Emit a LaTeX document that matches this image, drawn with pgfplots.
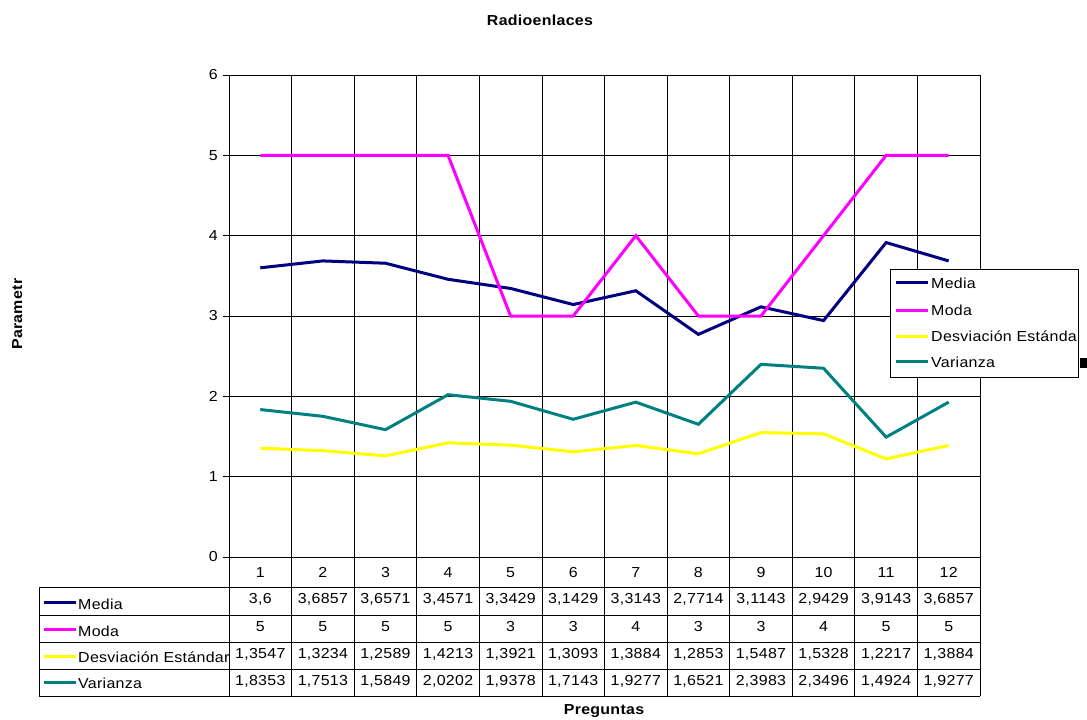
\documentclass[border=0pt]{standalone}
\usepackage{pgfplots}
\pgfplotsset{compat=1.18}
\usepackage{fontspec}
\setmainfont{Liberation Sans}[FakeStretch=1.1, LetterSpace=2]
\definecolor{cmedia}{HTML}{000080}
\definecolor{cmoda}{HTML}{FF00FF}
\definecolor{cdesv}{HTML}{FFFF00}
\definecolor{cvar}{HTML}{008080}
\begin{document}
\begin{tikzpicture}[font=\fontsize{14.5bp}{16bp}\selectfont]
\path[use as bounding box] (0,0) rectangle (1087bp,-720bp);
\begin{axis}[
  at={(229bp,-557bp)}, anchor=south west,
  scale only axis, width=751bp, height=482bp,
  xmin=0.5, xmax=12.5, ymin=0, ymax=6,
  xtick={1.5,2.5,...,11.5}, xticklabels={},
  ytick={0,1,...,6}, ytick pos=left,
  xmajorgrids, ymajorgrids,
  grid style={black, line width=0.8bp},
  axis line style={black, line width=0.8bp},
  tick style={black, line width=0.8bp},
  xtick style={draw=none},
  tick align=outside,
  major tick length=6bp,
  /pgf/number format/assume math mode=true,
  yticklabel style={font=\fontsize{14.5bp}{16bp}\selectfont, inner sep=0pt, xshift=-5bp},
  every axis plot/.append style={line width=3bp, no markers},
]
\addplot[cmedia] coordinates {(1,3.6) (2,3.6857) (3,3.6571) (4,3.4571) (5,3.3429) (6,3.1429) (7,3.3143) (8,2.7714) (9,3.1143) (10,2.9429) (11,3.9143) (12,3.6857)};
\addplot[cmoda] coordinates {(1,5) (2,5) (3,5) (4,5) (5,3) (6,3) (7,4) (8,3) (9,3) (10,4) (11,5) (12,5)};
\addplot[cdesv] coordinates {(1,1.3547) (2,1.3234) (3,1.2589) (4,1.4213) (5,1.3921) (6,1.3093) (7,1.3884) (8,1.2853) (9,1.5487) (10,1.5328) (11,1.2217) (12,1.3884)};
\addplot[cvar] coordinates {(1,1.8353) (2,1.7513) (3,1.5849) (4,2.0202) (5,1.9378) (6,1.7143) (7,1.9277) (8,1.6521) (9,2.3983) (10,2.3496) (11,1.4924) (12,1.9277)};
\end{axis}
\begin{scope}[x=1bp, y=-1bp]
  % titles
  \node[anchor=base, font=\fontsize{14.5bp}{16bp}\selectfont\bfseries] at (540,25) {Radioenlaces};
  \node[anchor=base, font=\fontsize{14.5bp}{16bp}\selectfont\bfseries] at (604,714) {Preguntas};
  \node[anchor=base west, rotate=90, inner sep=0pt, font=\fontsize{14.5bp}{16bp}\selectfont\bfseries] at (22,350) {Parametr};
  % table grid
  \def\cw{62.583}
  \foreach \yy in {587,615,642,669,696} \draw[black, line width=0.8bp] (39,\yy) -- (980,\yy);
  \draw[black, line width=0.8bp] (39,587) -- (39,696);
  \foreach \k in {0,...,12} \draw[black, line width=0.8bp] ({229+\cw*\k},557) -- ({229+\cw*\k},696);
  % header
  \foreach \i in {1,...,12} \node[anchor=base, inner sep=0pt] at ({229+\cw*(\i-0.5)},577) {\i};
  % rows
  \foreach \v [count=\i] in {{3,6},{3,6857},{3,6571},{3,4571},{3,3429},{3,1429},{3,3143},{2,7714},{3,1143},{2,9429},{3,9143},{3,6857}}
    \node[anchor=base, inner sep=0pt] at ({229+\cw*(\i-0.5)},603) {\v};
  \foreach \v [count=\i] in {5,5,5,5,3,3,4,3,3,4,5,5}
    \node[anchor=base, inner sep=0pt] at ({229+\cw*(\i-0.5)},631) {\v};
  \foreach \v [count=\i] in {{1,3547},{1,3234},{1,2589},{1,4213},{1,3921},{1,3093},{1,3884},{1,2853},{1,5487},{1,5328},{1,2217},{1,3884}}
    \node[anchor=base, inner sep=0pt] at ({229+\cw*(\i-0.5)},658) {\v};
  \foreach \v [count=\i] in {{1,8353},{1,7513},{1,5849},{2,0202},{1,9378},{1,7143},{1,9277},{1,6521},{2,3983},{2,3496},{1,4924},{1,9277}}
    \node[anchor=base, inner sep=0pt] at ({229+\cw*(\i-0.5)},685) {\v};
  % row labels
  \begin{scope}
    \clip (39,587) rectangle (229,696);
    \draw[cmedia, line width=3bp] (44,602.7) -- (76,602.7);
    \draw[cmoda, line width=3bp] (44,629.3) -- (76,629.3);
    \draw[cdesv, line width=3bp] (44,656) -- (76,656);
    \draw[cvar, line width=3bp] (44,682.7) -- (76,682.7);
    \node[anchor=base west, inner sep=0pt] at (78,609) {Media};
    \node[anchor=base west, inner sep=0pt] at (78,636) {Moda};
    \node[anchor=base west, inner sep=0pt] at (78,662) {Desviación Estándar};
    \node[anchor=base west, inner sep=0pt] at (78,688) {Varianza};
  \end{scope}
  % legend
  \fill[white] (890,269) rectangle (1078,377);
  \begin{scope}
    \clip (890,269) rectangle (1077,377);
    \draw[cmedia, line width=3bp] (896,282.3) -- (928,282.3);
    \draw[cmoda, line width=3bp] (896,310) -- (928,310);
    \draw[cdesv, line width=3bp] (896,336) -- (928,336);
    \draw[cvar, line width=3bp] (896,361.7) -- (928,361.7);
    \node[anchor=base west, inner sep=0pt] at (931,288) {Media};
    \node[anchor=base west, inner sep=0pt] at (931,315) {Moda};
    \node[anchor=base west, inner sep=0pt] at (931,341) {Desviación Estándar};
    \node[anchor=base west, inner sep=0pt] at (931,367) {Varianza};
  \end{scope}
  \draw[black, line width=0.8bp] (890,269) rectangle (1078,377);
  \fill[black] (1080,358) rectangle (1087,368);
\end{scope}
\end{tikzpicture}
\end{document}
